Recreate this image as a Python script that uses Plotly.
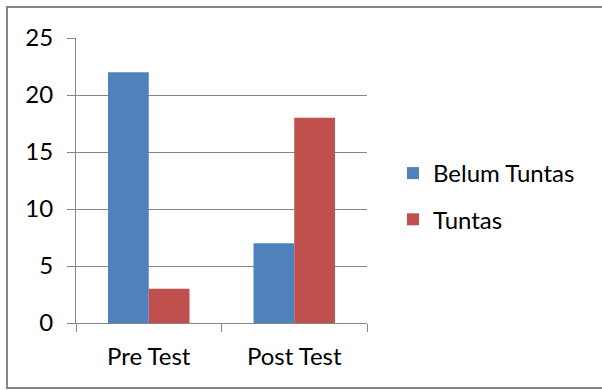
import plotly.graph_objects as go

categories = ["Pre Test", "Post Test"]
belum_tuntas = [22, 7]
tuntas = [3, 18]
series_names = ["Belum Tuntas", "Tuntas"]
y_ticks = [0, 5, 10, 15, 20, 25]

BLUE = "#4F81BD"
RED = "#C0504D"
GRAY = "#868686"
FONT = "Lato"
FS = 24

fig = go.Figure()
fig.add_trace(go.Bar(x=categories, y=belum_tuntas, name=series_names[0],
                     marker=dict(color=BLUE, line=dict(width=0)), legendgroup="a"))
fig.add_trace(go.Bar(x=categories, y=tuntas, name=series_names[1],
                     marker=dict(color=RED, line=dict(width=0)), legendgroup="b"))

L, R, T, B = 76, 367, 38, 323
W, H = 602, 390
pw, ph = R - L, B - T

def px(x):
    return (x - L) / pw

def py(y):
    return (B - y) / ph

fig.update_layout(
    width=W, height=H,
    margin=dict(l=L, r=W - R, t=T, b=H - B, pad=0),
    paper_bgcolor="white", plot_bgcolor="white",
    barmode="group", bargap=0.44, bargroupgap=0,
    font=dict(family=FONT, size=FS, color="#000000"),
    showlegend=True,
    legend=dict(x=px(393), y=py(151), xanchor="left", yanchor="top",
                font=dict(family=FONT, size=FS, color="#000000"),
                itemwidth=30, tracegroupgap=12, bgcolor="rgba(0,0,0,0)"),
    xaxis=dict(
        showline=True, linecolor=GRAY, linewidth=1,
        ticks="outside", ticklen=8, tickcolor=GRAY, tickson="boundaries",
        showgrid=False, zeroline=False, fixedrange=True,
        ticklabelstandoff=12,
        tickfont=dict(family=FONT, size=FS, color="#000000"),
    ),
    yaxis=dict(
        range=[0, 25], tickvals=y_ticks,
        showline=True, linecolor=GRAY, linewidth=1,
        ticks="outside", ticklen=8, tickcolor=GRAY,
        showgrid=True, gridcolor=GRAY, gridwidth=1,
        zeroline=False, fixedrange=True,
        ticklabelstandoff=9,
        tickfont=dict(family=FONT, size=FS, color="#000000"),
    ),
    shapes=[dict(type="rect", xref="paper", yref="paper",
                 x0=px(7), x1=px(640), y0=py(388), y1=py(7),
                 line=dict(color=GRAY, width=2), fillcolor="rgba(0,0,0,0)",
                 layer="below")],
)

fig.write_html("out.html", config=dict(displayModeBar=False),
               post_script="document.body.style.margin='0';document.body.style.overflow='hidden';")
